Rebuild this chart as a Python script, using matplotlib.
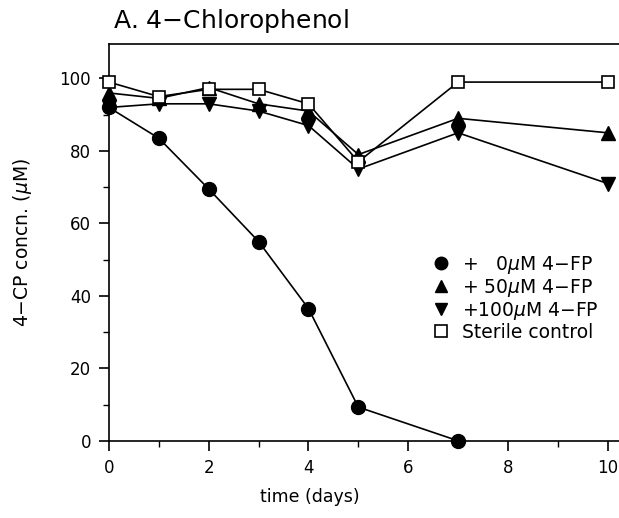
import numpy as np
import matplotlib
matplotlib.use('Agg')
from matplotlib import pyplot as plt
from matplotlib.lines import Line2D
from matplotlib.ticker import MultipleLocator

# data
days_0 = [0, 1, 2, 3, 4, 5, 7]
cp_0uM = [92, 83.5, 69.5, 55, 36.5, 9.3, 0]
days = [0, 1, 2, 3, 4, 5, 7, 10]
cp_50uM = [96, 94.5, 97.5, 93, 91, 79, 89, 85]
cp_100uM = [92, 93, 93, 91, 87, 75, 85, 71]
cp_sterile = [99, 95, 97, 97, 93, 77, 99, 99]

labels = [r'+   0$\mu$M 4$-$FP', r'+ 50$\mu$M 4$-$FP',
          r'+100$\mu$M 4$-$FP', 'Sterile control']

plt.rcParams['font.family'] = 'DejaVu Sans'
plt.rcParams['mathtext.fontset'] = 'dejavusans'

fig = plt.figure(figsize=(6.19, 5.18), dpi=100)
ax = fig.add_axes([0.176, 0.149, 0.83, 0.766])

ax.plot(days_0, cp_0uM, '-o', color='k', ms=10, lw=1.2, clip_on=False, zorder=4)
ax.plot(days, cp_50uM, '-^', color='k', ms=10, lw=1.2, clip_on=False, zorder=3)
ax.plot(days, cp_100uM, '-v', color='k', ms=10, lw=1.2, clip_on=False, zorder=3)
ax.plot(days, cp_sterile, '-s', color='k', mfc='white', ms=9, mew=1.2, lw=1.2,
        clip_on=False, zorder=5)

ax.set_xlim(0, 10.3)
ax.set_ylim(0, 109.5)
ax.xaxis.set_major_locator(MultipleLocator(2))
ax.xaxis.set_minor_locator(MultipleLocator(1))
ax.yaxis.set_major_locator(MultipleLocator(20))
ax.yaxis.set_minor_locator(MultipleLocator(10))
ax.tick_params(which='major', length=7, width=1.2, labelsize=12, pad=6)
ax.tick_params(which='minor', length=4.5, width=1)
ax.spines['right'].set_visible(False)
for s in ['left', 'bottom', 'top']:
    ax.spines[s].set_linewidth(1.2)

ax.set_xlabel('time (days)', fontsize=12.5)
ax.xaxis.set_label_coords(0.39, -0.12)
ax.set_ylabel(r'4$-$CP concn. ($\mu$M)', fontsize=13.5)
ax.yaxis.set_label_coords(-0.145, 0.5)
fig.text(0.182, 0.945, r'A. 4$-$Chlorophenol', fontsize=18)

handles = [Line2D([], [], ls='none', marker='o', color='k', ms=9),
           Line2D([], [], ls='none', marker='^', color='k', ms=9),
           Line2D([], [], ls='none', marker='v', color='k', ms=9),
           Line2D([], [], ls='none', marker='s', color='k', mfc='white', ms=8, mew=1.2)]
ax.legend(handles, labels, loc='upper left', bbox_to_anchor=(0.617, 0.49), frameon=False,
          fontsize=13.5, handlelength=0.8, handletextpad=0.7, labelspacing=0.05,
          borderaxespad=0)

fig.savefig('out.png', dpi=100)
